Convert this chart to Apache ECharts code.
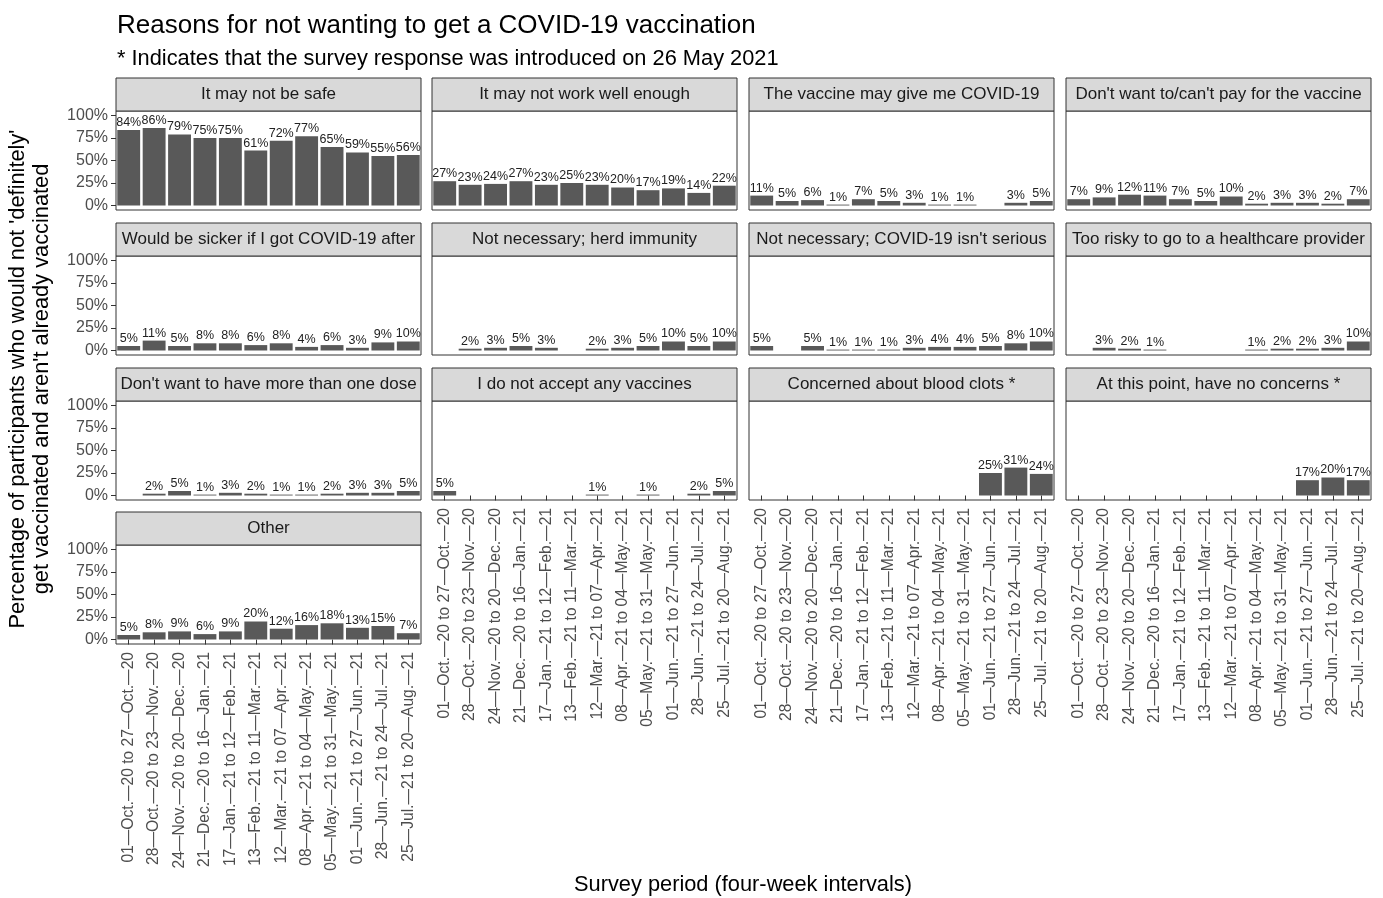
<!DOCTYPE html>
<html>
<head>
<meta charset="utf-8">
<script src="https://cdn.jsdelivr.net/npm/echarts@6/dist/echarts.min.js"></script>
<style>
  html, body { margin: 0; padding: 0; background: #fff; }
  #chart { width: 1383px; height: 898px; }
</style>
</head>
<body>
<div id="chart"></div>
<script>
  // survey periods (x categories)
  var periods = [
    '01—Oct.—20 to 27—Oct.—20', '28—Oct.—20 to 23—Nov.—20', '24—Nov.—20 to 20—Dec.—20',
    '21—Dec.—20 to 16—Jan.—21', '17—Jan.—21 to 12—Feb.—21', '13—Feb.—21 to 11—Mar.—21',
    '12—Mar.—21 to 07—Apr.—21', '08—Apr.—21 to 04—May.—21', '05—May.—21 to 31—May.—21',
    '01—Jun.—21 to 27—Jun.—21', '28—Jun.—21 to 24—Jul.—21', '25—Jul.—21 to 20—Aug.—21'
  ];
  var yTicks = [0, 25, 50, 75, 100];

  // percentages per reason (null = no response recorded)
  var notSafe      = [84, 86, 79, 75, 75, 61, 72, 77, 65, 59, 55, 56];
  var notWorkWell  = [27, 23, 24, 27, 23, 25, 23, 20, 17, 19, 14, 22];
  var giveMeCovid  = [11, 5, 6, 1, 7, 5, 3, 1, 1, null, 3, 5];
  var cantPay      = [7, 9, 12, 11, 7, 5, 10, 2, 3, 3, 2, 7];
  var sicker       = [5, 11, 5, 8, 8, 6, 8, 4, 6, 3, 9, 10];
  var herdImmunity = [null, 2, 3, 5, 3, null, 2, 3, 5, 10, 5, 10];
  var notSerious   = [5, null, 5, 1, 1, 1, 3, 4, 4, 5, 8, 10];
  var tooRisky     = [null, 3, 2, 1, null, null, null, 1, 2, 2, 3, 10];
  var oneDose      = [null, 2, 5, 1, 3, 2, 1, 1, 2, 3, 3, 5];
  var noVaccines   = [5, null, null, null, null, null, 1, null, 1, null, 2, 5];
  var bloodClots   = [null, null, null, null, null, null, null, null, null, 25, 31, 24];
  var noConcerns   = [null, null, null, null, null, null, null, null, null, 17, 20, 17];
  var other        = [5, 8, 9, 6, 9, 20, 12, 16, 18, 13, 15, 7];

  var reasons = [
    'It may not be safe', 'It may not work well enough', 'The vaccine may give me COVID-19',
    "Don't want to/can't pay for the vaccine", 'Would be sicker if I got COVID-19 after',
    'Not necessary; herd immunity', "Not necessary; COVID-19 isn't serious",
    'Too risky to go to a healthcare provider', "Don't want to have more than one dose",
    'I do not accept any vaccines', 'Concerned about blood clots *',
    'At this point, have no concerns *', 'Other'
  ];
  var panelData = [notSafe, notWorkWell, giveMeCovid, cantPay, sicker, herdImmunity,
    notSerious, tooRisky, oneDose, noVaccines, bloodClots, noConcerns, other];

  var FONT = '"Liberation Sans", Arial, Helvetica, sans-serif';
  var colLeft = [116, 432, 749, 1066];
  var panelW = 305;
  var stripTop = [78, 223, 368, 512];
  var stripH = 33;
  var panelH = 99;

  var grids = [], xAxes = [], yAxes = [], series = [], graphics = [];

  panelData.forEach(function (vals, i) {
    var col = i % 4, row = Math.floor(i / 4);
    var left = colLeft[col], top = stripTop[row] + stripH;
    // bottom panel of each column gets the x labels
    var isBottom = (i + 4 >= panelData.length);
    var isLeft = col === 0;

    grids.push({
      left: left, top: top, width: panelW, height: panelH,
      show: true, borderColor: '#333', borderWidth: 1, backgroundColor: '#fff'
    });
    xAxes.push({
      type: 'category', gridIndex: i, data: periods,
      axisLine: { show: false },
      axisTick: { show: isBottom, alignWithLabel: true, length: 5, lineStyle: { color: '#333' } },
      axisLabel: {
        show: isBottom, rotate: 90, interval: 0, margin: 8,
        fontSize: 15.6, color: '#4d4d4d', fontFamily: FONT
      }
    });
    yAxes.push({
      type: 'value', gridIndex: i, min: -5, max: 105,
      splitLine: { show: false },
      axisLine: { show: false },
      axisTick: { show: isLeft, length: 5, customValues: yTicks, lineStyle: { color: '#333' } },
      axisLabel: {
        show: isLeft, customValues: yTicks, margin: 8,
        formatter: '{value}%', fontSize: 16, color: '#4d4d4d', fontFamily: FONT
      }
    });
    series.push({
      type: 'bar', xAxisIndex: i, yAxisIndex: i, data: vals,
      barCategoryGap: '10%',
      itemStyle: { color: '#595959' },
      label: {
        show: true, position: 'top', distance: 1,
        formatter: '{c}%', fontSize: 12.5, color: '#222', fontFamily: FONT
      },
      silent: true
    });

    // facet strip
    graphics.push({
      type: 'rect', shape: { x: left, y: stripTop[row], width: panelW, height: stripH },
      style: { fill: '#d9d9d9', stroke: '#333', lineWidth: 1 }
    });
    graphics.push({
      type: 'text', x: left + panelW / 2, y: stripTop[row] + stripH / 2,
      style: {
        text: reasons[i], fill: '#1a1a1a', fontSize: 17, fontFamily: FONT,
        align: 'center', verticalAlign: 'middle'
      }
    });
  });

  // axis titles
  graphics.push({
    type: 'text', x: 30, y: 379, rotation: Math.PI / 2,
    style: {
      text: "Percentage of participants who would not 'definitely'\nget vaccinated and aren't already vaccinated",
      fill: '#000', fontSize: 21.8, fontFamily: FONT, lineHeight: 24,
      align: 'center', verticalAlign: 'middle'
    }
  });
  graphics.push({
    type: 'text', x: 743, y: 885,
    style: {
      text: 'Survey period (four-week intervals)', fill: '#000', fontSize: 21.8,
      fontFamily: FONT, align: 'center', verticalAlign: 'middle'
    }
  });

  var option = {
    backgroundColor: '#fff',
    animation: false,
    title: [
      {
        text: 'Reasons for not wanting to get a COVID-19 vaccination',
        left: 112, top: 8,
        textStyle: { fontSize: 26, fontWeight: 'normal', color: '#000', fontFamily: FONT }
      },
      {
        text: '* Indicates that the survey response was introduced on 26 May 2021',
        left: 112, top: 43,
        textStyle: { fontSize: 21.8, fontWeight: 'normal', color: '#000', fontFamily: FONT }
      }
    ],
    grid: grids,
    xAxis: xAxes,
    yAxis: yAxes,
    series: series,
    graphic: graphics
  };

  var myChart = echarts.init(document.getElementById('chart'));
  myChart.setOption(option);
</script>
</body>
</html>
